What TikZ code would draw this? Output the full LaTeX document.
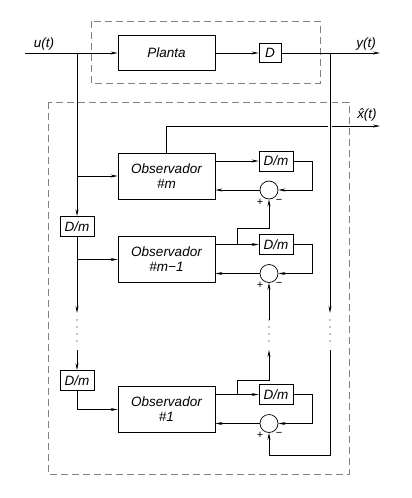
\documentclass[tikz,border=0pt]{standalone}
\usepackage{fontspec}
\setmainfont{Liberation Sans}
\usetikzlibrary{arrows.meta}
\usetikzlibrary{positioning}
\usetikzlibrary{calc}
\begin{document}
\begin{tikzpicture}[x=1pt,y=-1pt,inner sep=0pt,line width=0.7pt,
    font=\fontsize{13.5}{15}\selectfont\itshape,
    blk/.style={draw,minimum width=97pt,minimum height=46pt,align=center},
    dm/.style={draw,minimum width=34pt,minimum height=20pt},
    sum/.style={draw,circle,minimum size=18pt},
    sgn/.style={font=\fontsize{11}{11}\selectfont},
    frame/.style={draw=gray,dash pattern=on 7pt off 4pt},
    arr/.style={-{Stealth[length=7pt,width=3pt]}}]
    \useasboundingbox (0,0) rectangle (412,498);
    \draw[frame] (91,21) rectangle (320,83);
    \draw[frame] (48,102) rectangle (349,474);
    \node[draw,minimum width=97pt,minimum height=35pt] (planta) at (166.5,53) {Planta};
    \node[draw,minimum width=22pt,minimum height=19pt] (D) at (270,53) {D};
    \coordinate (uin) at (25,53);
    \coordinate (ub) at (77,53);
    \coordinate (yb) at (330,53);
    \coordinate (yout) at (380,53);
    \coordinate (xh) at (380,126);
    \node (ulbl) at (44,44) {u(t)};
    \node (ylbl) at (366,44) {y(t)};
    \node (xlbl) at (367,115) {\^x(t)};
    \foreach \n/\y/\lbl in {m/176/{\#m}, n/259.5/{\#m−1}, o/409.5/{\#1}} {
        \node[blk] (obs\n) at (166.5,\y) {Observador\\\lbl};
        \node[dm] (dm\n) at (276,\y-15) {D/m};
        \node[sum] (sum\n) at (269,\y+14) {};
        \node[sgn] (pl\n) at ($(sum\n)+(-9,12)$) {+};
        \node[sgn] (mi\n) at ($(sum\n)+(10,11)$) {−};
        \draw[arr] (obs\n.east |- dm\n) -- (dm\n.west);
        \draw[arr] (dm\n.east) -- ++(19,0) |- (sum\n.east);
        \draw[arr] (sum\n.west) -- (sum\n.west -| obs\n.east);
    }
    \node[dm] (dmA) at (77,226.5) {D/m};
    \node[dm] (dmB) at (77,380.5) {D/m};
    \coordinate (lA) at (77,313);
    \coordinate (lD) at (77,350);
    \coordinate (cA) at (269,320);
    \coordinate (cD) at (269,350);
    \coordinate (rA) at (330,313);
    \coordinate (rD) at (330,350);
    \coordinate (rE) at (330,455);
    \coordinate (bn) at (237,244);
    \coordinate (bo) at (237,394.5);
    \foreach \x in {77,269,330}
        \foreach \y in {320,327,334,341}
            \fill (\x,\y) circle (0.6pt);
    \draw[arr] (uin) -- (planta.west);
    \draw[arr] (planta.east) -- (D.west);
    \draw[arr] (obsm.north) |- (xh);
    \draw[arr,preaction={draw=white,line width=4pt,arrows=-}] (yb) -- (rA);
    \draw[arr] (D.east) -- (yout);
    \draw[arr] (ub) -- (dmA.north);
    \draw[arr] (ub |- obsm) -- (obsm.west);
    \draw[arr] (dmA.south) |- (obsn.west);
    \draw[arr] (dmA.south) -- (lA);
    \draw[arr] (lD) -- (dmB.north);
    \draw[arr] (dmB.south) |- (obso.west);
    \draw[arr] (bn) -- ++(0,-16) -| (summ.south);
    \draw[arr] (bo) -- ++(0,-14.5) -| (cD);
    \draw[arr] (cA) -- (sumn.south);
    \draw[arr] (rD) -- (rE) -| (sumo.south);
\end{tikzpicture}
\end{document}
